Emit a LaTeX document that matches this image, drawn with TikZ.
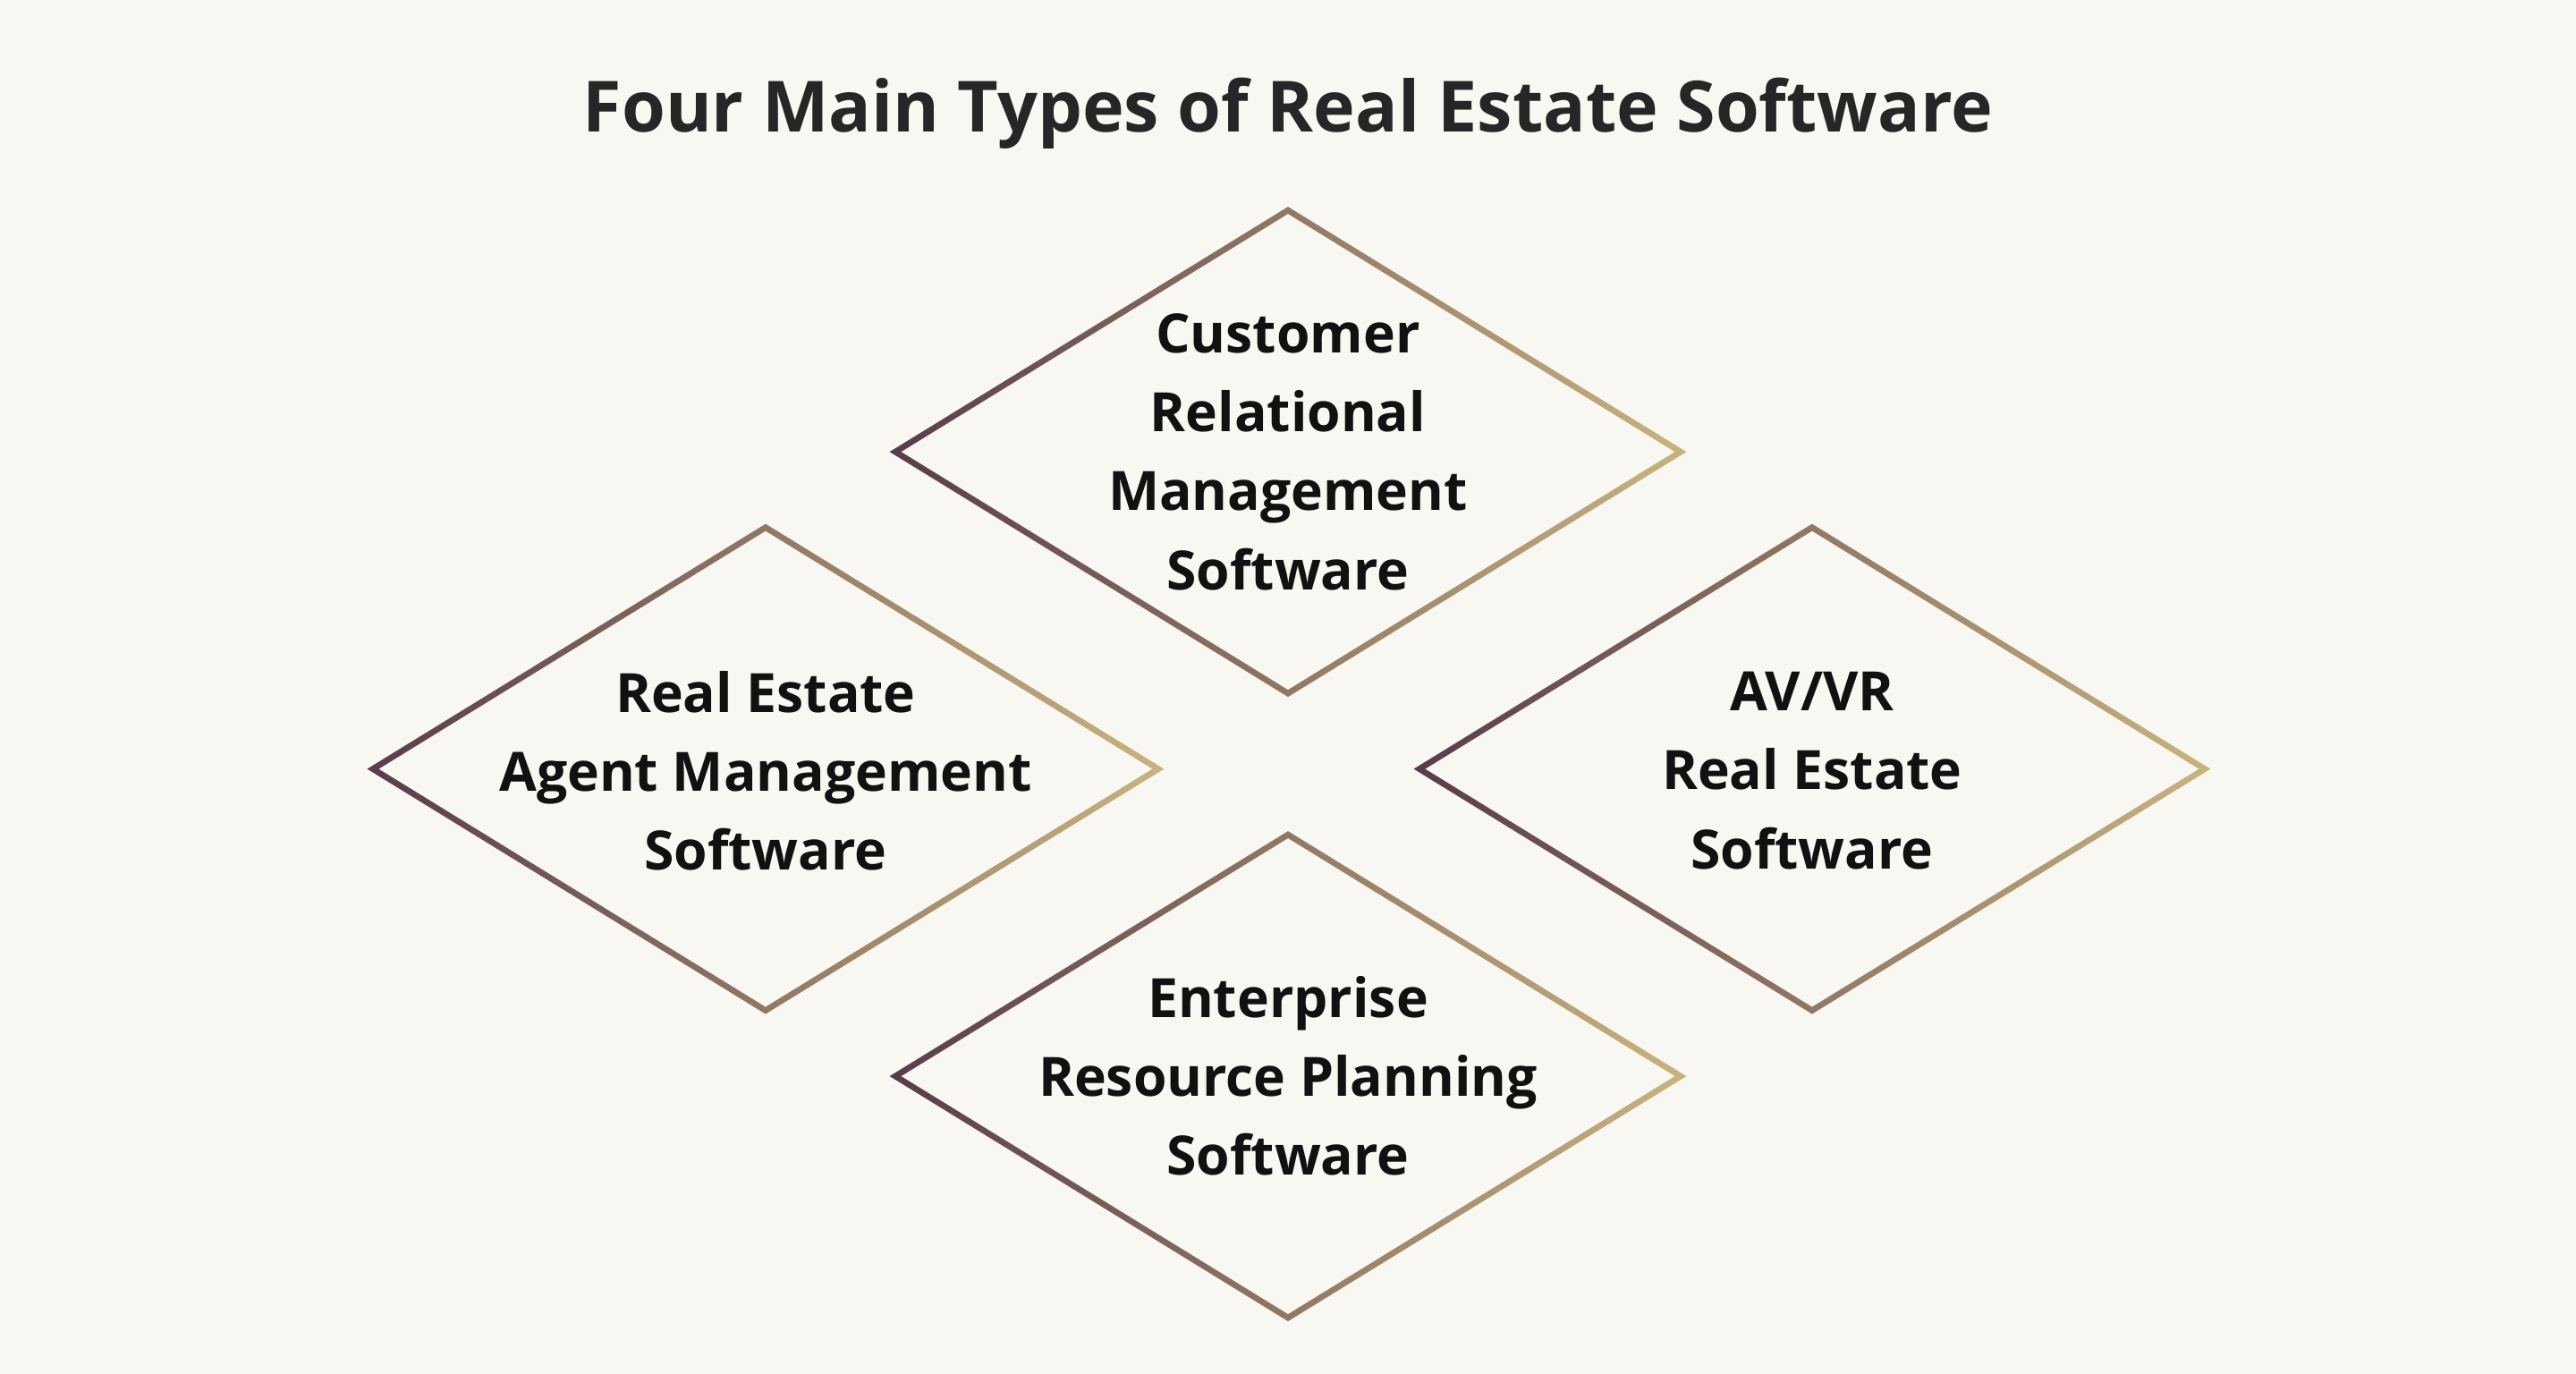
\documentclass[tikz,border=0pt]{standalone}
\usepackage{fontspec}
\setmainfont{Open Sans}
\usetikzlibrary{positioning}
\definecolor{paper}{HTML}{F8F7F2}
\definecolor{plum}{HTML}{583C4A}
\definecolor{taupe}{HTML}{A48E72}
\definecolor{sand}{HTML}{C8B480}
\definecolor{ink}{HTML}{111111}
\definecolor{heading}{HTML}{262626}
\tikzset{x=1pt, y=-1pt,
    ring/.style={
        even odd rule,
        left color=plum,
        middle color=taupe,
        right color=sand},
    label/.style={
        align=center,
        text=ink,
        font=\fontsize{33}{48}\selectfont\bfseries}}

\begin{document}
\begin{tikzpicture}
        \fill[paper] (0,0) rectangle (1568,836);
        \useasboundingbox (0,0) rectangle (1568,836);

        \node[font=\fontsize{43}{50}\selectfont\bfseries, text=heading] (title) at (784,69) {Four Main Types of Real Estate Software};

        % gradient outlines
        \foreach \cx/\cy in {784/275, 466/468, 1103/468, 784/655}
            \shade[ring] (\cx-242.5,\cy) -- (\cx,\cy-149.15) -- (\cx+242.5,\cy) -- (\cx,\cy+149.15) -- cycle
                         (\cx-235.5,\cy) -- (\cx,\cy-144.85) -- (\cx+235.5,\cy) -- (\cx,\cy+144.85) -- cycle;

        \node[label] (crm) at (784,275) {Customer\\Relational\\Management\\Software};
        \node[label] (agent) at (466,469) {Real Estate\\Agent Management\\Software};
        \node[label] (avvr) at (1103,469) {AV/VR\\Real Estate\\Software};
        \node[label] (erp) at (784,655) {Enterprise\\Resource Planning\\Software};

    \end{tikzpicture}
\end{document}
